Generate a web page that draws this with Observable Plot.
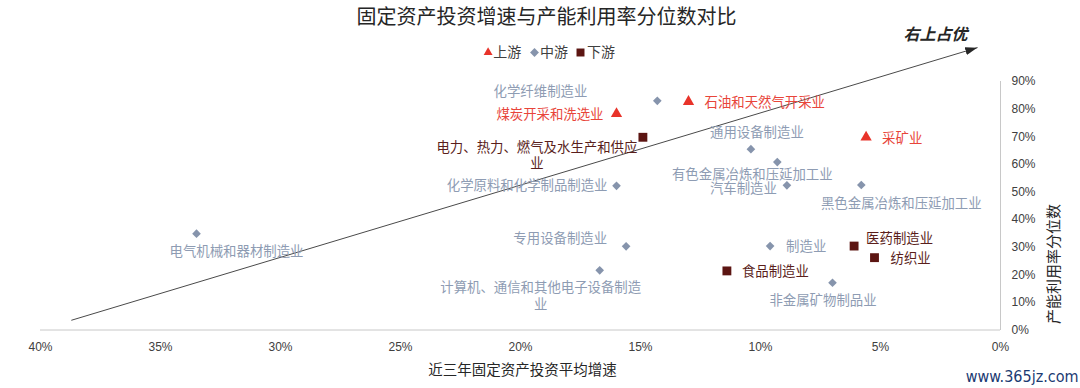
<!DOCTYPE html>
<html>
<head>
<meta charset="utf-8">
<script src="https://cdn.jsdelivr.net/npm/d3@7"></script>
<script src="https://cdn.jsdelivr.net/npm/@observablehq/plot@0.6"></script>
<style>
  html, body { margin: 0; padding: 0; background: #ffffff; }
  #chart { width: 1080px; height: 388px; }
</style>
</head>
<body>
<div id="chart"></div>
<script>
// ---- data ----
const industries = [
  "石油和天然气开采业", "煤炭开采和洗选业", "采矿业",
  "化学纤维制造业", "通用设备制造业", "有色金属冶炼和压延加工业", "汽车制造业",
  "黑色金属冶炼和压延加工业", "化学原料和化学制品制造业", "电气机械和器材制造业",
  "专用设备制造业", "制造业", "计算机、通信和其他电子设备制造业", "非金属矿物制品业",
  "电力、热力、燃气及水生产和供应业", "医药制造业", "纺织业", "食品制造业"
];
const chainStage = [
  "上游", "上游", "上游",
  "中游", "中游", "中游", "中游", "中游", "中游", "中游", "中游", "中游", "中游", "中游",
  "下游", "下游", "下游", "下游"
];
const investGrowth = [13.0, 16.0, 5.6, 14.3, 10.4, 9.3, 8.9, 5.8, 16.0, 33.5, 15.6, 9.6, 16.7, 7.0, 14.9, 6.1, 5.25, 11.4];
const capacityPct  = [82.7, 78.3, 69.8, 83.0, 65.5, 60.8, 52.4, 52.5, 52.2, 34.9, 30.3, 30.4, 21.6, 17.1, 69.8, 30.4, 26.2, 21.4];
const stages = ["上游", "中游", "下游"];
const xTicks = [40, 35, 30, 25, 20, 15, 10, 5, 0];
const yTicks = [0, 10, 20, 30, 40, 50, 60, 70, 80, 90];
const trendX = [38.7, 0.97];
const trendY = [3.56, 102.25];
const titleText = "固定资产投资增速与产能利用率分位数对比";
const xLabel = "近三年固定资产投资平均增速";
const yLabel = "产能利用率分位数";
const arrowNote = "右上占优";
const watermark = "www.365jz.com";

// ---- styles / layout (not data) ----
const stageSymbol = {"上游": "triangle", "中游": "diamond2", "下游": "square"};
const stageFill = {"上游": "#E8332A", "中游": "#8694AC", "下游": "#5C1512"};
const stageText = {"上游": "#E8453A", "中游": "#8E9CB3", "下游": "#5A1E1B"};
const stageR = {"上游": 4.2, "中游": 3.9, "下游": 5.0};
// label placement: [dx, dy, anchor, displayed text]
const labelLayout = {
  "石油和天然气开采业": [16, 0, "start"],
  "煤炭开采和洗选业": [-13, 0, "end"],
  "采矿业": [16, 0, "start"],
  "化学纤维制造业": [-70, -10.5, "end"],
  "通用设备制造业": [6, -17.5, "middle"],
  "有色金属冶炼和压延加工业": [-25, 12, "middle"],
  "汽车制造业": [-10, 2.5, "end"],
  "黑色金属冶炼和压延加工业": [40, 17.5, "middle"],
  "化学原料和化学制品制造业": [-9, -1, "end"],
  "电气机械和器材制造业": [40, 17, "middle"],
  "专用设备制造业": [-19, -9, "end"],
  "制造业": [16, 0, "start"],
  "计算机、通信和其他电子设备制造业": [-59, 25, "middle", "计算机、通信和其他电子设备制造\n业"],
  "非金属矿物制品业": [-9.5, 16.7, "middle"],
  "电力、热力、燃气及水生产和供应业": [-106, 17.5, "middle", "电力、热力、燃气及水生产和供应\n业"],
  "医药制造业": [12, -8.5, "start"],
  "纺织业": [16, 0, "start"],
  "食品制造业": [15, 0, "start"]
};

const rows = industries.map((name, i) => ({
  name, stage: chainStage[i], x: investGrowth[i], y: capacityPct[i]
}));
const trend = trendX.map((x, i) => ({x, y: trendY[i]}));

const cjk = "'Noto Sans CJK SC', 'Noto Sans', sans-serif";

const pointMarks = stages.map(s => Plot.dot(rows.filter(d => d.stage === s), {
  x: "x", y: "y", symbol: () => stageSymbol[s], r: stageR[s],
  fill: stageFill[s], stroke: "none"
}));

const labelMarks = rows.map(d => {
  const [dx, dy, anchor, txt] = labelLayout[d.name];
  return Plot.text([d], {
    x: "x", y: "y", text: () => txt || d.name, dx, dy, textAnchor: anchor,
    fill: stageText[d.stage], fontSize: 13.4, lineHeight: 1.22, fontFamily: cjk
  });
});

// legend (positioned relative to the frame top)
const legendOffsets = [[-32.4, -27.2], [14, 19.6], [60, 66.5]];
const legendR = {"上游": 3.3, "中游": 4.0, "下游": 4.5};
const legendMarks = stages.flatMap((s, i) => [
  Plot.dot([s], {frameAnchor: "top", dx: legendOffsets[i][0], dy: -29,
    symbol: () => stageSymbol[s], r: legendR[s], fill: stageFill[s], stroke: "none"}),
  Plot.text([s], {frameAnchor: "top", lineAnchor: "middle", dx: legendOffsets[i][1], dy: -29, text: d => d,
    textAnchor: "start", fontSize: 14, fill: "#404040", fontFamily: cjk})
]);

const chart = Plot.plot({
  width: 1080,
  height: 388,
  marginTop: 81,
  marginBottom: 58,
  marginLeft: 40,
  marginRight: 80,
  style: {fontFamily: "'Liberation Sans', Arial, sans-serif", background: "#ffffff", overflow: "visible"},
  x: {domain: [40, 0], range: [40, 1000]},
  y: {domain: [0, 90], range: [329.5, 81]},
  marks: [
    Plot.ruleY([0], {stroke: "#c8c8c8", strokeWidth: 1}),
    Plot.ruleX([0], {stroke: "#c8c8c8", strokeWidth: 1}),
    Plot.axisX({ticks: xTicks, tickFormat: d => d + "%", tickSize: 0, tickPadding: 12,
      fontSize: 12, fill: "#404040", label: null}),
    Plot.axisY({anchor: "right", ticks: yTicks, tickFormat: d => d + "%", tickSize: 0, tickPadding: 11,
      fontSize: 12, fill: "#404040", label: null}),
    Plot.line(trend, {x: "x", y: "y", stroke: "#4a4a4a", strokeWidth: 1}),
    ...pointMarks,
    ...labelMarks,
    ...legendMarks,
    Plot.text([titleText], {frameAnchor: "top", lineAnchor: "middle", dx: 26, dy: -64, text: d => d,
      fontSize: 20, letterSpacing: 1.4, fill: "#262626", fontFamily: cjk}),
    Plot.text([arrowNote], {frameAnchor: "top", lineAnchor: "middle", dx: 415, dy: -47, text: d => d,
      fontSize: 16, fontWeight: "bold", fontStyle: "italic", fill: "#262626", fontFamily: cjk}),
    Plot.text([xLabel], {frameAnchor: "bottom", lineAnchor: "middle", dx: 2, dy: 39.5, text: d => d,
      fontSize: 14.5, fill: "#262626", fontFamily: cjk}),
    Plot.text([yLabel], {frameAnchor: "right", lineAnchor: "middle", dx: 54, dy: -2, rotate: -90, text: d => d,
      fontSize: 15, fill: "#262626", fontFamily: cjk}),
    Plot.text([watermark], {frameAnchor: "bottom-right", lineAnchor: "middle", dx: 78, dy: 46, text: d => d,
      textAnchor: "end", fontSize: 16, fill: "#1B3A72",
      fontFamily: "'Liberation Sans Narrow', 'DejaVu Sans Condensed', sans-serif"})
  ]
});

// filled arrowhead for the trend line
const svg = d3.select(chart);
svg.append("defs").append("marker")
  .attr("id", "trend-head")
  .attr("viewBox", "0 0 12 8")
  .attr("refX", 12).attr("refY", 4)
  .attr("markerUnits", "userSpaceOnUse")
  .attr("markerWidth", 12).attr("markerHeight", 8)
  .attr("orient", "auto")
  .append("path").attr("d", "M0,0L12,4L0,8Z").attr("fill", "#262626");
svg.selectAll('g[aria-label="line"] path').attr("marker-end", "url(#trend-head)");

document.getElementById("chart").appendChild(chart);
</script>
</body>
</html>
